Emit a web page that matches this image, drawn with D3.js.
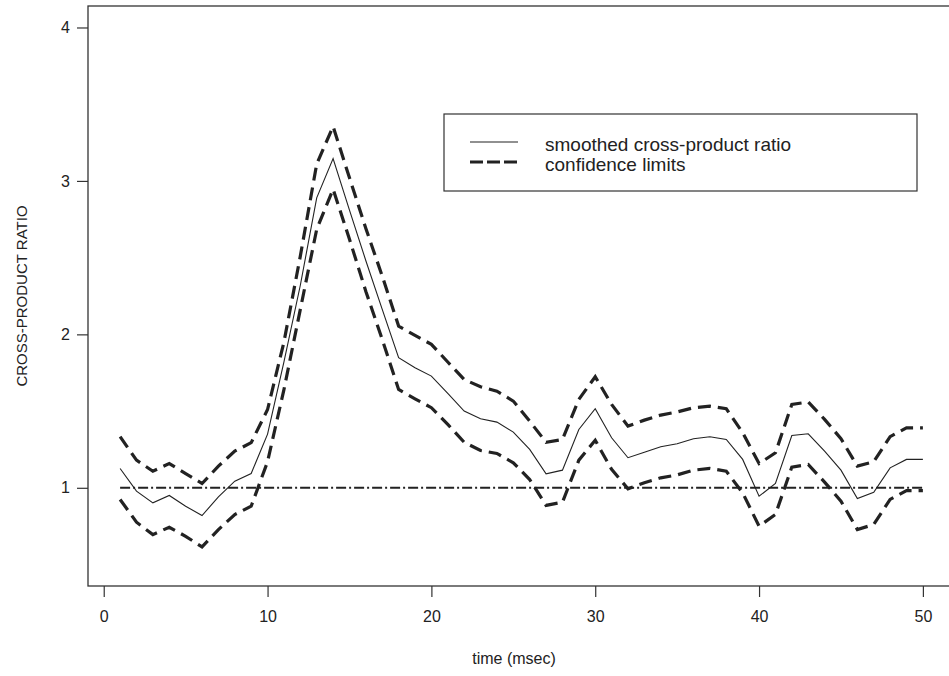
<!DOCTYPE html>
<html>
<head>
<meta charset="utf-8">
<script src="https://cdn.jsdelivr.net/npm/d3@7"></script>
<style>
  body { margin: 0; background: #fff; }
  svg { display: block; font-family: "Liberation Sans", Arial, sans-serif; }
</style>
</head>
<body>
<div id="chart"></div>
<script>
// time points (msec)
const time = [1,2,3,4,5,6,7,8,9,10,11,12,13,14,15,16,17,18,19,20,21,22,23,24,25,
              26,27,28,29,30,31,32,33,34,35,36,37,38,39,40,41,42,43,44,45,46,47,48,49,50];

// smoothed cross-product ratio
const ratio = [1.126,0.978,0.902,0.95,0.88,0.819,0.941,1.043,1.093,1.35,
               1.82,2.32,2.89,3.146,2.81,2.48,2.163,1.848,1.783,1.728,
               1.615,1.5,1.45,1.428,1.363,1.25,1.091,1.115,1.38,1.515,
               1.326,1.196,1.232,1.267,1.287,1.32,1.333,1.315,1.185,0.945,
               1.028,1.341,1.352,1.239,1.115,0.93,0.971,1.13,1.185,1.185];

// confidence limits
const upper = [1.333,1.18,1.108,1.158,1.093,1.028,1.141,1.239,1.294,1.51,
               1.95,2.51,3.11,3.355,3.02,2.69,2.38,2.054,1.993,1.935,
               1.82,1.706,1.659,1.63,1.565,1.434,1.297,1.315,1.576,1.724,
               1.543,1.402,1.441,1.474,1.494,1.522,1.532,1.515,1.359,1.158,
               1.228,1.543,1.559,1.446,1.32,1.141,1.17,1.333,1.391,1.391];
const lower = [0.924,0.776,0.695,0.743,0.684,0.615,0.728,0.826,0.88,1.17,
               1.64,2.163,2.685,2.946,2.62,2.28,1.967,1.641,1.58,1.522,
               1.413,1.297,1.243,1.224,1.163,1.054,0.885,0.906,1.18,1.31,
               1.12,0.993,1.033,1.065,1.084,1.115,1.126,1.108,0.967,0.75,
               0.826,1.135,1.152,1.037,0.913,0.728,0.761,0.924,0.982,0.982];

const refLevel = 1;
const xTicks = [0,10,20,30,40,50];
const yTicks = [1,2,3,4];
const legendLabels = ["smoothed cross-product ratio", "confidence limits"];

const W = 949, H = 676;
const box = {left: 88, top: 6, right: 955, bottom: 586};
const ink = "#222";

const svg = d3.select("#chart").append("svg")
    .attr("width", W)
    .attr("height", H);

// R-style 4% padding around xlim c(1,50), ylim c(0.5,4)
const x = d3.scaleLinear().domain([1 - 1.96, 50 + 1.96]).range([box.left, box.right]);
const y = d3.scaleLinear().domain([0.5 - 0.14, 4 + 0.14]).range([box.bottom, box.top]);

// frame
svg.append("rect")
    .attr("x", box.left).attr("y", box.top)
    .attr("width", box.right - box.left).attr("height", box.bottom - box.top)
    .attr("fill", "none").attr("stroke", "#333").attr("stroke-width", 1.3);

// axes
const xAxis = svg.append("g")
    .attr("transform", `translate(0,${box.bottom})`)
    .call(d3.axisBottom(x).tickValues(xTicks).tickFormat(d3.format("d"))
        .tickSize(11).tickSizeOuter(0).tickPadding(14));
xAxis.select(".domain").remove();
xAxis.selectAll("line").attr("stroke", "#333").attr("stroke-width", 1.2);
xAxis.selectAll("text").attr("font-size", 16).attr("fill", ink)
    .attr("font-family", "Liberation Sans, Arial, sans-serif");

const yAxis = svg.append("g")
    .attr("transform", `translate(${box.left},0)`)
    .call(d3.axisLeft(y).tickValues(yTicks).tickFormat(d3.format("d"))
        .tickSize(11).tickSizeOuter(0).tickPadding(7));
yAxis.select(".domain").remove();
yAxis.selectAll("line").attr("stroke", "#333").attr("stroke-width", 1.2);
yAxis.selectAll("text").attr("font-size", 16).attr("fill", ink)
    .attr("font-family", "Liberation Sans, Arial, sans-serif");

// axis titles
svg.append("text")
    .attr("x", 514).attr("y", 664)
    .attr("text-anchor", "middle")
    .attr("font-size", 16).attr("fill", ink)
    .text("time (msec)");

svg.append("text")
    .attr("transform", `translate(27,${(box.top + box.bottom) / 2}) rotate(-90)`)
    .attr("text-anchor", "middle")
    .attr("font-size", 15).attr("fill", ink)
    .text("CROSS-PRODUCT RATIO");

// reference line at 1
svg.append("line")
    .attr("x1", x(time[0])).attr("x2", x(time[time.length - 1]))
    .attr("y1", y(refLevel)).attr("y2", y(refLevel))
    .attr("stroke", ink).attr("stroke-width", 2)
    .attr("stroke-dasharray", "10,3,2,3");

const line = d3.line()
    .x(d => x(d[0]))
    .y(d => y(d[1]));

// confidence limits
[upper, lower].forEach(function(series) {
    svg.append("path")
        .datum(time.map((t, i) => [t, series[i]]))
        .attr("d", line)
        .attr("fill", "none")
        .attr("stroke", ink)
        .attr("stroke-width", 3.2)
        .attr("stroke-dasharray", "13,7");
});

// smoothed ratio
svg.append("path")
    .datum(time.map((t, i) => [t, ratio[i]]))
    .attr("d", line)
    .attr("fill", "none")
    .attr("stroke", ink)
    .attr("stroke-width", 1.1);

// legend
const legend = svg.append("g");
legend.append("rect")
    .attr("x", 444).attr("y", 114)
    .attr("width", 473).attr("height", 77)
    .attr("fill", "#fff").attr("stroke", "#333").attr("stroke-width", 1.2);

legend.append("line")
    .attr("x1", 470).attr("x2", 518).attr("y1", 142).attr("y2", 142)
    .attr("stroke", ink).attr("stroke-width", 1.1);
legend.append("line")
    .attr("x1", 470).attr("x2", 518).attr("y1", 162).attr("y2", 162)
    .attr("stroke", ink).attr("stroke-width", 3.2)
    .attr("stroke-dasharray", "13,4");

legend.selectAll(".lab")
    .data(legendLabels)
    .enter().append("text")
    .attr("class", "lab")
    .attr("x", 545)
    .attr("y", (d, i) => 151 + i * 20)
    .attr("font-size", 19)
    .attr("fill", ink)
    .text(d => d);
</script>
</body>
</html>
